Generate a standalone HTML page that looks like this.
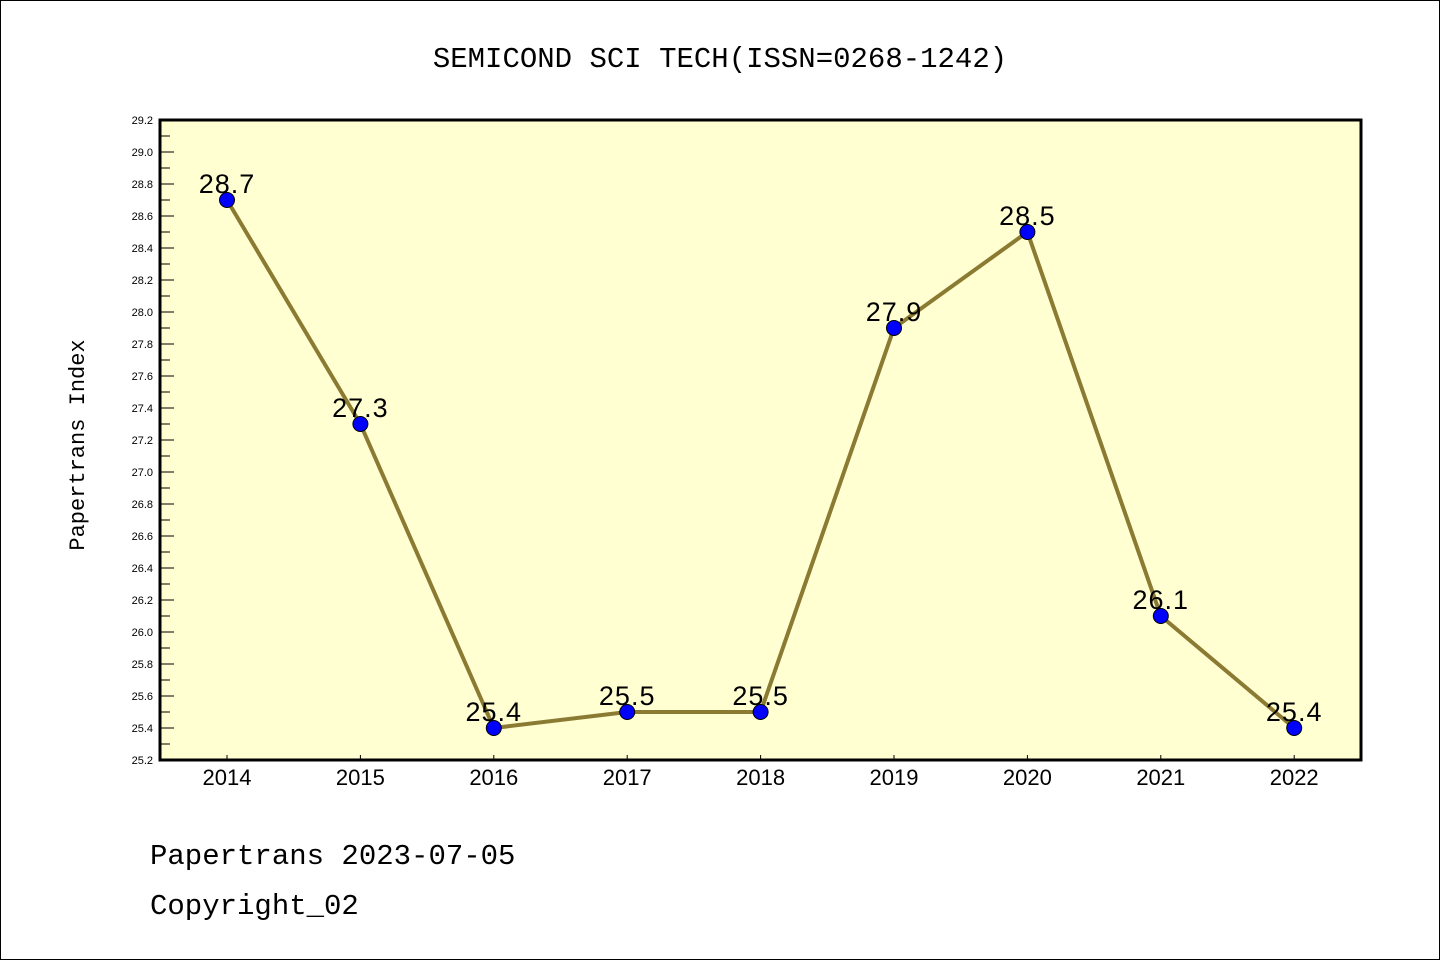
<!DOCTYPE html>
<html><head><meta charset="utf-8"><style>
html,body{margin:0;padding:0;background:#fff}
svg{display:block}
text{font-family:"Liberation Sans",sans-serif}
.mono{font-family:"Liberation Mono",monospace}
</style></head><body>
<svg id="chart" width="1440" height="960" xmlns="http://www.w3.org/2000/svg">
<rect x="0.5" y="0.5" width="1439" height="959" fill="#fff" stroke="#000"/>
<text class="mono" x="720" y="67" font-size="29" text-anchor="middle">SEMICOND SCI TECH(ISSN=0268-1242)</text>
<rect x="160" y="120" width="1201" height="640" fill="#ffffd2"/>
<g id="ticks"></g>
<g id="series"></g>
<rect x="160" y="120" width="1201" height="640" fill="none" stroke="#000" stroke-width="3"/>
<text class="mono" transform="translate(84,445) rotate(-90)" font-size="22" text-anchor="middle">Papertrans Index</text>
<text class="mono" x="150" y="864" font-size="29">Papertrans 2023-07-05</text>
<text class="mono" x="150" y="914" font-size="29">Copyright_02</text>
</svg>
<script>
const years = ["2014","2015","2016","2017","2018","2019","2020","2021","2022"];
const values = [28.7,27.3,25.4,25.5,25.5,27.9,28.5,26.1,25.4];
const valueLabels = ["28.7","27.3","25.4","25.5","25.5","27.9","28.5","26.1","25.4"];
const yMin = 25.2, yMax = 29.2;
const NS = "http://www.w3.org/2000/svg";
const x0 = 227, xStep = 133.4;
function xs(i){ return x0 + i * xStep; }
function ys(v){ return 760 - (v - yMin) / (yMax - yMin) * 640; }
function mk(tag, attrs, parent){ const e = document.createElementNS(NS, tag); for (const k in attrs) e.setAttribute(k, attrs[k]); parent.appendChild(e); return e; }
const tg = document.getElementById('ticks');
const nT = Math.round((yMax - yMin) / 0.1);
for (let k = 0; k <= nT; k++) {
  const v = yMin + k * 0.1, y = ys(v), major = k % 2 === 0;
  const l = mk('line', {x1:160, x2: major ? 174 : 170, y1:y, y2:y, stroke:'#000', 'stroke-width':1}, tg);
  
  
  if (major) {
    const t = mk('text', {x:153, y:y + 4, 'font-size':11, 'text-anchor':'end'}, tg);
    t.textContent = v.toFixed(1);
    
    
  }
}
years.forEach((yr, i) => {
  const x = xs(i);
  const l = mk('line', {x1:x, x2:x, y1:760, y2:755, stroke:'#000', 'stroke-width':1}, tg);
  
  
  const t = mk('text', {x:x, y:785, 'font-size':22, 'text-anchor':'middle'}, tg);
  t.textContent = yr;
  
  
});
const sg = document.getElementById('series');
const pts = values.map((v, i) => xs(i) + ',' + ys(v)).join(' ');
const line = mk('polyline', {points:pts, fill:'none', stroke:'#8b7a32', 'stroke-width':4, 'stroke-linejoin':'round'}, sg);


values.forEach((v, i) => {
  const c = mk('circle', {cx:xs(i), cy:ys(v), r:7.5, fill:'#0000ff', stroke:'#000', 'stroke-width':1}, sg);
  
  
  const t = mk('text', {x:xs(i), y:ys(v) - 7, 'font-size':27, 'text-anchor':'middle', 'letter-spacing':'1'}, sg);
  t.textContent = valueLabels[i];
  
  
});
</script>
</body></html>
